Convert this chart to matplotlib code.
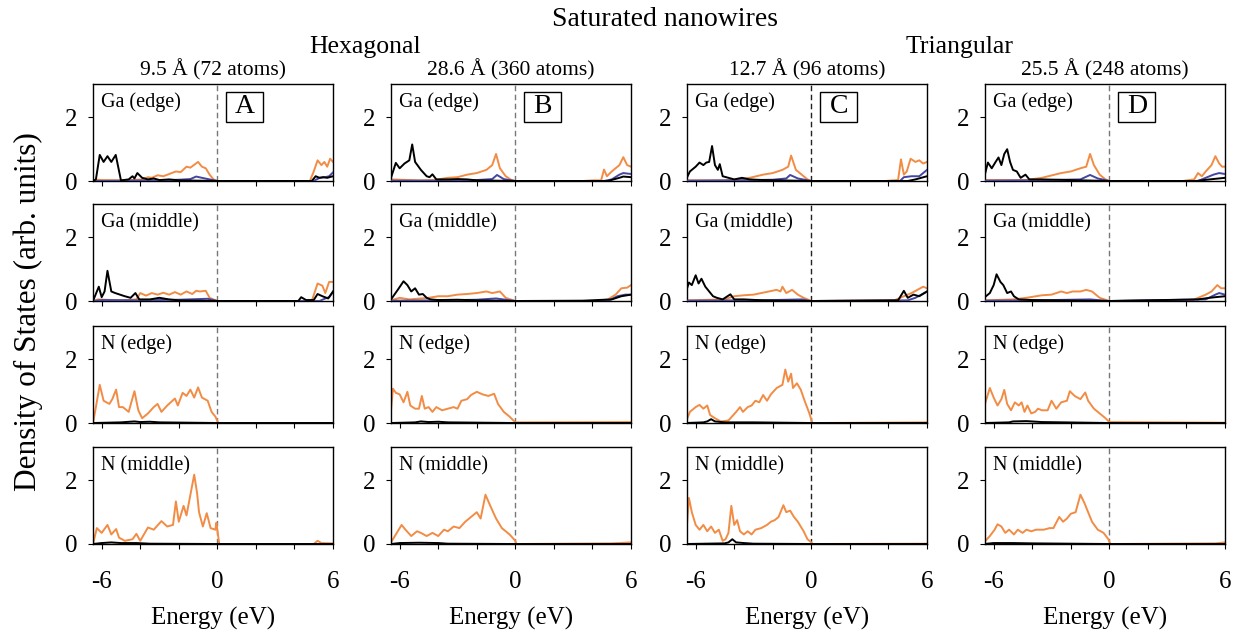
import matplotlib
matplotlib.use("Agg")
import matplotlib.pyplot as plt
from matplotlib.patches import Rectangle

plt.rcParams['font.family'] = ['Liberation Serif', 'DejaVu Serif']
plt.rcParams['axes.unicode_minus'] = False

# ---------------- data (energy eV, DOS) ----------------
column_titles = ["9.5 Å (72 atoms)", "28.6 Å (360 atoms)", "12.7 Å (96 atoms)", "25.5 Å (248 atoms)"]
column_letters = ["A", "B", "C", "D"]
row_labels = ["Ga (edge)", "Ga (middle)", "N (edge)", "N (middle)"]
group_titles = ["Hexagonal", "Triangular"]
x_ticks = [-6, -4, -2, 0, 2, 4, 6]
x_ticklabels = ["-6", "", "", "0", "", "", "6"]
y_ticks = [0, 2]

# Panel A
A_ga_edge_black = [(-6.45,0),(-6.3,0.05),(-6.1,0.82),(-5.9,0.6),(-5.7,0.78),(-5.5,0.6),(-5.27,0.82),(-5.0,0.02),(-4.6,0.05),(-4.4,0.15),(-4.3,0.08),(-4.15,0.25),(-3.9,0.1),(-3.6,0.05),(-3.3,0.08),(-3.0,0.03),(-2.5,0.05),(-2.0,0.02),(0,0),(4.9,0),(5.1,0.15),(5.3,0.1),(5.5,0.12),(5.7,0.1),(6.0,0.15)]
A_ga_edge_orange = [(-6.45,0),(-6.2,0.04),(-6.0,0.03),(-5.0,0.02),(-4.5,0.03),(-3.9,0.05),(-3.6,0.12),(-3.4,0.1),(-3.1,0.18),(-2.8,0.15),(-2.5,0.22),(-2.15,0.3),(-1.9,0.28),(-1.6,0.45),(-1.4,0.42),(-1.0,0.6),(-0.8,0.45),(-0.6,0.4),(-0.4,0.2),(-0.2,0.05),(0,0),(4.8,0),(5.0,0.3),(5.2,0.65),(5.4,0.5),(5.55,0.6),(5.7,0.45),(5.85,0.7),(6.0,0.6)]
A_ga_edge_blue = [(-6.45,0),(-5,0.01),(-3,0.02),(-2,0.04),(-1.4,0.06),(-1.1,0.14),(-0.8,0.1),(-0.4,0.05),(0,0),(5.0,0),(5.3,0.1),(5.6,0.12),(5.8,0.15),(6.0,0.27)]
A_ga_mid_black = [(-6.45,0),(-6.15,0.45),(-6.0,0.12),(-5.85,0.3),(-5.7,0.95),(-5.5,0.3),(-5.3,0.25),(-4.8,0.15),(-4.5,0.1),(-4.25,0.25),(-4.05,0.05),(-3.5,0.05),(-3.0,0.1),(-2.5,0.05),(-2.0,0.02),(0,0),(4.2,0),(4.35,0.12),(4.6,0.03),(5.0,0.03),(5.2,0.22),(5.45,0.15),(5.75,0.08),(6.0,0.3)]
A_ga_mid_orange = [(-6.45,0),(-6.2,0.05),(-5.0,0.02),(-4.2,0.05),(-4.0,0.25),(-3.7,0.17),(-3.4,0.25),(-3.1,0.2),(-2.8,0.26),(-2.5,0.2),(-2.2,0.28),(-1.9,0.2),(-1.6,0.3),(-1.3,0.22),(-1.1,0.32),(-0.9,0.3),(-0.6,0.32),(-0.4,0.1),(0,0),(4.9,0),(5.2,0.55),(5.45,0.48),(5.6,0.25),(5.8,0.6),(6.0,0.6)]
A_ga_mid_blue = [(-6.45,0),(-6.0,0.03),(-4,0.02),(-2,0.04),(-1,0.06),(-0.5,0.07),(0,0),(5.3,0),(5.6,0.08),(5.8,0.12),(6.0,0.28)]
A_n_edge_black = [(-6.45,0),(-5,0.02),(-4.3,0.05),(-4.0,0.03),(-3.5,0.04),(-3.0,0.02),(0,0),(6,0)]
A_n_edge_orange = [(-6.45,0),(-6.3,0.5),(-6.1,1.2),(-5.9,0.7),(-5.6,0.6),(-5.45,0.75),(-5.25,1.05),(-5.1,0.5),(-4.9,0.5),(-4.6,0.35),(-4.3,1.0),(-4.1,0.4),(-3.9,0.15),(-3.6,0.3),(-3.3,0.5),(-3.1,0.6),(-2.9,0.35),(-2.6,0.55),(-2.2,0.77),(-2.05,0.55),(-1.8,0.95),(-1.6,0.85),(-1.4,1.05),(-1.2,0.8),(-1.0,1.12),(-0.8,0.8),(-0.5,0.7),(-0.3,0.35),(-0.1,0.2),(0.05,0),(6,0)]
A_n_mid_black = [(-6.45,0),(-6.0,0.03),(-5.5,0.05),(-5.0,0.03),(-4.2,0.03),(-3.5,0.01),(0,0),(6,0)]
A_n_mid_orange = [(-6.45,0),(-6.25,0.5),(-6.0,0.35),(-5.7,0.6),(-5.5,0.3),(-5.25,0.47),(-5.1,0.2),(-4.8,0.1),(-4.4,0.15),(-4.2,0.32),(-4.0,0.1),(-3.6,0.52),(-3.3,0.45),(-2.9,0.72),(-2.6,0.55),(-2.3,0.6),(-2.15,1.34),(-2.0,0.7),(-1.75,1.2),(-1.6,0.9),(-1.2,2.18),(-1.05,1.6),(-0.95,1.0),(-0.75,0.55),(-0.55,0.97),(-0.35,0.5),(-0.1,0.45),(-0.05,0.67),(0.1,0),(5.0,0),(5.2,0.1),(5.4,0.03),(6,0.02)]

# Panel B
B_ga_edge_black = [(-6.45,0.1),(-6.2,0.57),(-6.0,0.4),(-5.75,0.55),(-5.5,0.65),(-5.35,1.15),(-5.2,0.6),(-4.9,0.35),(-4.6,0.15),(-4.45,0.12),(-4.3,0.21),(-4.1,0.05),(-3.5,0.05),(-3.0,0.06),(-2.5,0.05),(-2.0,0.02),(0,0),(4.8,0),(5.4,0.1),(5.6,0.14),(6.0,0.12)]
B_ga_edge_orange = [(-6.45,0.05),(-5.0,0.02),(-4.2,0.03),(-3.5,0.1),(-3.0,0.12),(-2.5,0.2),(-2.0,0.25),(-1.5,0.35),(-1.2,0.5),(-1.0,0.85),(-0.8,0.4),(-0.5,0.15),(-0.2,0.03),(0,0),(3.5,0),(4.0,0.02),(4.45,0.02),(4.6,0.36),(4.75,0.15),(5.0,0.3),(5.4,0.5),(5.6,0.75),(5.8,0.5),(6.0,0.45)]
B_ga_edge_blue = [(-6.45,0.01),(-4,0.01),(-2,0.03),(-1.2,0.06),(-0.95,0.19),(-0.6,0.06),(0,0),(4.6,0),(5.0,0.05),(5.4,0.2),(5.6,0.25),(6.0,0.22)]
B_ga_mid_black = [(-6.45,0.05),(-6.1,0.35),(-5.8,0.62),(-5.6,0.5),(-5.4,0.3),(-5.2,0.4),(-5.0,0.2),(-4.8,0.22),(-4.6,0.1),(-4.4,0.05),(-4.0,0.03),(-3.0,0.04),(-2.0,0.02),(0,0),(3.5,0.01),(5.0,0.05),(5.5,0.15),(6.0,0.2)]
B_ga_mid_orange = [(-6.45,0.02),(-6.0,0.1),(-5.5,0.05),(-4.5,0.1),(-4.0,0.15),(-3.5,0.15),(-3.0,0.2),(-2.5,0.22),(-2.0,0.25),(-1.5,0.3),(-1.2,0.25),(-0.8,0.3),(-0.5,0.1),(-0.1,0.02),(0,0),(4.2,0),(4.8,0.05),(5.2,0.2),(5.5,0.4),(5.8,0.42),(6.0,0.5)]
B_ga_mid_blue = [(-6.45,0.01),(-4,0.02),(-2,0.04),(-1.0,0.08),(0,0),(4.8,0),(5.3,0.15),(5.7,0.2),(6.0,0.2)]
B_n_edge_black = [(-6.45,0),(-5.2,0.02),(-4.9,0.05),(-4.5,0.03),(-4.0,0.04),(-3.5,0.02),(0,0),(6,0)]
B_n_edge_orange = [(-6.45,0.4),(-6.35,1.08),(-6.2,0.95),(-6.0,0.9),(-5.8,0.65),(-5.6,0.98),(-5.45,0.55),(-5.2,0.45),(-5.0,0.45),(-4.85,0.85),(-4.7,0.45),(-4.5,0.5),(-4.3,0.35),(-4.1,0.5),(-3.8,0.4),(-3.5,0.45),(-3.2,0.5),(-3.0,0.45),(-2.8,0.7),(-2.5,0.75),(-2.3,0.88),(-2.0,0.98),(-1.7,0.9),(-1.4,0.85),(-1.1,0.92),(-0.9,0.6),(-0.6,0.35),(-0.3,0.2),(0,0.02),(6,0.03)]
B_n_mid_black = [(-6.45,0),(-6.0,0.03),(-5.0,0.04),(-4.0,0.03),(-3.5,0.01),(0,0),(6,0)]
B_n_mid_orange = [(-6.45,0.05),(-6.2,0.3),(-5.9,0.6),(-5.7,0.45),(-5.4,0.25),(-5.1,0.4),(-4.9,0.35),(-4.6,0.25),(-4.3,0.35),(-4.0,0.25),(-3.7,0.45),(-3.5,0.4),(-3.2,0.55),(-2.9,0.5),(-2.6,0.7),(-2.3,0.85),(-2.0,1.0),(-1.8,0.8),(-1.55,1.55),(-1.3,1.2),(-1.0,0.8),(-0.7,0.5),(-0.3,0.3),(0,0.1),(0.05,0),(5.0,0.02),(6.0,0.05)]

# Panel C
C_ga_edge_black = [(-6.5,0.05),(-6.3,0.3),(-6.0,0.45),(-5.8,0.58),(-5.6,0.5),(-5.45,0.58),(-5.3,0.6),(-5.15,1.1),(-5.0,0.5),(-4.85,0.35),(-4.75,0.53),(-4.6,0.15),(-4.3,0.1),(-4.0,0.05),(-3.6,0.1),(-3.2,0.05),(-2.5,0.03),(0,0),(5.0,0),(5.4,0.05),(6.0,0.15)]
C_ga_edge_orange = [(-6.5,0.02),(-4.5,0.02),(-3.8,0.05),(-3.2,0.1),(-2.5,0.2),(-2.0,0.25),(-1.5,0.35),(-1.2,0.45),(-1.05,0.8),(-0.8,0.35),(-0.5,0.2),(-0.2,0.05),(0,0),(3.8,0),(4.5,0.03),(4.65,0.68),(4.8,0.2),(4.95,0.3),(5.15,0.7),(5.4,0.6),(5.6,0.65),(5.8,0.55),(6.0,0.6)]
C_ga_edge_blue = [(-6.5,0.01),(-4,0.02),(-2,0.04),(-1.3,0.08),(-1.1,0.19),(-0.7,0.08),(0,0),(4.6,0),(4.8,0.12),(5.2,0.15),(5.6,0.15),(6.0,0.35)]
C_ga_mid_black = [(-6.5,0.3),(-6.35,0.58),(-6.2,0.5),(-6.0,0.81),(-5.85,0.55),(-5.7,0.7),(-5.5,0.45),(-5.3,0.3),(-5.1,0.15),(-4.9,0.1),(-4.6,0.05),(-4.2,0.21),(-4.0,0.05),(-3.5,0.05),(-2.5,0.02),(0,0),(4.5,0.02),(4.8,0.32),(5.0,0.1),(5.3,0.2),(5.6,0.15),(6.0,0.3)]
C_ga_mid_orange = [(-6.5,0.02),(-4.5,0.05),(-4.0,0.15),(-3.5,0.18),(-3.0,0.2),(-2.6,0.25),(-2.2,0.3),(-1.8,0.35),(-1.6,0.3),(-1.5,0.45),(-1.3,0.25),(-1.0,0.35),(-0.7,0.2),(-0.4,0.1),(0,0),(4.3,0.02),(4.8,0.15),(5.2,0.25),(5.5,0.35),(5.8,0.45),(6.0,0.4)]
C_ga_mid_blue = [(-6.5,0.01),(-4,0.02),(-2,0.03),(-0.5,0.05),(0,0),(5.0,0.02),(5.4,0.1),(6.0,0.3)]
C_n_edge_black = [(-6.5,0),(-5.6,0.02),(-5.4,0.05),(-5.2,0.12),(-5.0,0.05),(-4.5,0.02),(-3.0,0.02),(0,0),(6,0)]
C_n_edge_orange = [(-6.5,0.05),(-6.3,0.35),(-6.0,0.5),(-5.8,0.57),(-5.6,0.45),(-5.4,0.55),(-5.25,0.25),(-5.0,0.15),(-4.7,0.05),(-4.3,0.08),(-3.9,0.35),(-3.7,0.5),(-3.55,0.35),(-3.3,0.5),(-3.1,0.55),(-2.9,0.7),(-2.7,0.65),(-2.5,0.88),(-2.3,0.7),(-2.1,0.9),(-1.8,1.1),(-1.5,1.2),(-1.35,1.68),(-1.2,1.3),(-1.05,1.55),(-0.95,1.1),(-0.75,1.25),(-0.55,1.05),(-0.35,0.7),(-0.1,0.3),(0,0.1),(0.05,0),(6,0.02)]
C_n_mid_black = [(-6.5,0),(-4.5,0.02),(-4.3,0.05),(-4.1,0.15),(-3.9,0.05),(-3.5,0.03),(-3.0,0.01),(0,0),(6,0)]
C_n_mid_orange = [(-6.5,0.2),(-6.35,1.45),(-6.2,1.0),(-6.0,0.6),(-5.8,0.45),(-5.6,0.6),(-5.4,0.4),(-5.2,0.55),(-5.0,0.35),(-4.8,0.45),(-4.6,0.1),(-4.45,0.15),(-4.3,0.35),(-4.15,1.2),(-4.0,0.6),(-3.85,0.75),(-3.7,0.4),(-3.5,0.3),(-3.3,0.4),(-3.1,0.3),(-2.9,0.45),(-2.6,0.5),(-2.3,0.6),(-2.1,0.7),(-1.9,0.75),(-1.7,0.85),(-1.45,1.22),(-1.3,1.0),(-1.1,1.05),(-0.9,0.85),(-0.7,0.7),(-0.4,0.4),(-0.2,0.15),(0,0.05),(0.05,0),(6,0.01)]

# Panel D
D_ga_edge_black = [(-6.5,0.1),(-6.3,0.58),(-6.1,0.4),(-5.9,0.6),(-5.75,0.74),(-5.6,0.5),(-5.45,0.85),(-5.3,1.0),(-5.15,0.6),(-5.0,0.35),(-4.8,0.3),(-4.6,0.1),(-4.35,0.2),(-4.15,0.05),(-3.5,0.05),(0,0),(4.5,0),(5.2,0.05),(6.0,0.1)]
D_ga_edge_orange = [(-6.5,0.03),(-4.3,0.03),(-3.5,0.1),(-2.5,0.25),(-2.0,0.3),(-1.5,0.4),(-1.2,0.45),(-1.0,0.85),(-0.8,0.5),(-0.5,0.2),(-0.2,0.05),(0,0),(3.8,0),(4.4,0.05),(4.6,0.25),(4.8,0.15),(5.0,0.3),(5.3,0.5),(5.5,0.78),(5.7,0.55),(5.85,0.45),(6.0,0.45)]
D_ga_edge_blue = [(-6.5,0.01),(-4,0.02),(-1.5,0.05),(-1.0,0.19),(-0.6,0.08),(0,0),(4.6,0),(5.0,0.1),(5.4,0.2),(5.7,0.25),(6.0,0.22)]
D_ga_mid_black = [(-6.5,0.1),(-6.2,0.25),(-6.0,0.5),(-5.85,0.84),(-5.65,0.6),(-5.5,0.5),(-5.3,0.25),(-5.1,0.3),(-4.95,0.15),(-4.7,0.05),(-4.0,0.03),(0,0),(4.6,0.05),(5.2,0.1),(5.5,0.12),(6.0,0.15)]
D_ga_mid_orange = [(-6.5,0.02),(-5.0,0.05),(-4.3,0.1),(-3.5,0.18),(-3.0,0.2),(-2.5,0.3),(-2.2,0.25),(-1.9,0.3),(-1.5,0.3),(-1.2,0.35),(-0.9,0.3),(-0.5,0.1),(0,0),(4.3,0.02),(5.0,0.2),(5.3,0.3),(5.6,0.5),(5.8,0.4),(6.0,0.4)]
D_ga_mid_blue = [(-6.5,0.01),(-4,0.02),(-1.0,0.05),(0,0),(5.0,0.05),(5.5,0.2),(5.7,0.25),(6.0,0.2)]
D_n_edge_black = [(-6.5,0),(-5.2,0.02),(-5.0,0.05),(-4.3,0.06),(-3.5,0.03),(0,0),(6,0)]
D_n_edge_orange = [(-6.5,0.5),(-6.35,0.8),(-6.2,1.1),(-6.0,0.8),(-5.8,0.55),(-5.6,0.75),(-5.45,1.04),(-5.3,0.6),(-5.1,0.4),(-4.9,0.65),(-4.7,0.55),(-4.55,0.65),(-4.4,0.35),(-4.25,0.55),(-4.05,0.3),(-3.85,0.35),(-3.7,0.45),(-3.5,0.4),(-3.2,0.4),(-3.0,0.7),(-2.75,0.45),(-2.5,0.65),(-2.2,0.7),(-2.05,1.0),(-1.8,0.85),(-1.5,0.75),(-1.25,0.96),(-1.1,0.7),(-0.8,0.45),(-0.5,0.3),(-0.2,0.15),(0,0.03),(6,0.01)]
D_n_mid_black = [(-6.5,0),(-6.0,0.03),(-5.0,0.03),(-4.0,0.02),(0,0),(6,0)]
D_n_mid_orange = [(-6.5,0.05),(-6.2,0.25),(-5.95,0.45),(-5.8,0.62),(-5.6,0.55),(-5.4,0.35),(-5.2,0.45),(-4.95,0.3),(-4.75,0.45),(-4.5,0.35),(-4.3,0.45),(-4.05,0.4),(-3.8,0.45),(-3.4,0.45),(-3.1,0.5),(-2.9,0.5),(-2.6,0.85),(-2.4,0.7),(-2.2,0.8),(-2.0,0.95),(-1.75,1.0),(-1.5,1.55),(-1.3,1.3),(-1.1,1.0),(-0.9,0.7),(-0.6,0.45),(-0.3,0.35),(-0.05,0.15),(0.05,0),(5.5,0.02),(6,0.05)]

panels = {
    "A": [(A_ga_edge_orange, A_ga_edge_blue, A_ga_edge_black), (A_ga_mid_orange, A_ga_mid_blue, A_ga_mid_black),
          (A_n_edge_orange, None, A_n_edge_black), (A_n_mid_orange, None, A_n_mid_black)],
    "B": [(B_ga_edge_orange, B_ga_edge_blue, B_ga_edge_black), (B_ga_mid_orange, B_ga_mid_blue, B_ga_mid_black),
          (B_n_edge_orange, None, B_n_edge_black), (B_n_mid_orange, None, B_n_mid_black)],
    "C": [(C_ga_edge_orange, C_ga_edge_blue, C_ga_edge_black), (C_ga_mid_orange, C_ga_mid_blue, C_ga_mid_black),
          (C_n_edge_orange, None, C_n_edge_black), (C_n_mid_orange, None, C_n_mid_black)],
    "D": [(D_ga_edge_orange, D_ga_edge_blue, D_ga_edge_black), (D_ga_mid_orange, D_ga_mid_blue, D_ga_mid_black),
          (D_n_edge_orange, None, D_n_edge_black), (D_n_mid_orange, None, D_n_mid_black)],
}

# ---------------- layout ----------------
W, H = 1233, 632
fig = plt.figure(figsize=(W / 100, H / 100), dpi=100)
col_left = [93, 391, 687, 985]
ax_w = 240
row_top = [84, 204, 326, 447]
ax_h = 97
orange = "#F28C45"
blue = "#4646A2"
dash_colors = ["#777777", "#777777", "#222222", "#777777"]

for c, letter in enumerate(column_letters):
    for r in range(4):
        ax = fig.add_axes([col_left[c] / W, 1 - (row_top[r] + ax_h) / H, ax_w / W, ax_h / H])
        o, b, k = panels[letter][r]
        ax.plot([p[0] for p in o], [p[1] for p in o], color=orange, lw=1.4, zorder=2)
        if b is not None:
            ax.plot([p[0] for p in b], [p[1] for p in b], color=blue, lw=1.4, zorder=3)
        ax.plot([p[0] for p in k], [p[1] for p in k], color="black", lw=1.4, zorder=4)
        ax.axvline(0, color=dash_colors[c], lw=1.0, ls=(0, (4, 2.5)), zorder=1)
        ax.set_xlim(-6.45, 6.0)
        ax.set_ylim(0, 3.05)
        ax.set_yticks(y_ticks)
        ax.set_yticklabels([str(t) for t in y_ticks])
        ax.set_xticks(x_ticks)
        if r == 3:
            ax.set_xticklabels(x_ticklabels)
            ax.set_xlabel("Energy (eV)", fontsize=18, labelpad=10)
        else:
            ax.set_xticklabels([])
        ax.tick_params(direction="out", length=3.5, width=0.8, labelsize=18)
        ax.tick_params(axis="x", pad=16)
        ax.tick_params(axis="y", pad=8)
        for s in ax.spines.values():
            s.set_linewidth(1.0)
        ax.text(0.035, 0.81, row_labels[r], transform=ax.transAxes, fontsize=14.5,
                ha="left", va="center")
        if r == 0:
            ax.add_patch(Rectangle((0.555, 0.605), 0.155, 0.31, transform=ax.transAxes,
                                   fill=False, ec="black", lw=1.0, zorder=5))
            ax.text(0.633, 0.765, letter, transform=ax.transAxes, fontsize=20,
                    ha="center", va="center", zorder=6)
            ax.set_title(column_titles[c], fontsize=15.5, pad=6)

fig.text(665 / W, 1 - 20 / H, "Saturated nanowires", fontsize=20, ha="center", va="center")
fig.text(365 / W, 1 - 47 / H, group_titles[0], fontsize=18.5, ha="center", va="center")
fig.text(960 / W, 1 - 47 / H, group_titles[1], fontsize=18.5, ha="center", va="center")
fig.text(28 / W, 1 - 312 / H, "Density of States (arb. units)", fontsize=22.5, rotation=90,
         ha="center", va="center")

fig.savefig("out.png", dpi=100)
